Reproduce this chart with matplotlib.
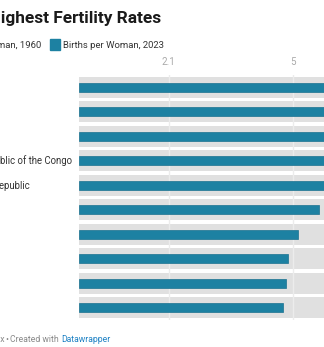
import matplotlib.pyplot as plt
from matplotlib.patches import Rectangle

plt.rcParams['font.family'] = ['Roboto', 'DejaVu Sans']

# Länder und Geburten pro Frau
countries = ["Niger", "Chad", "Somalia", "Democratic Republic of the Congo",
             "Central African Republic", "Mali", "Angola", "Burundi",
             "Afghanistan", "Mozambique"]
births_1960 = [7.5, 6.3, 7.3, 6.0, 5.9, 7.0, 7.6, 7.0, 7.3, 6.6]
births_2023 = [6.1, 6.1, 6.1, 6.05, 6.0, 5.61, 5.12, 4.89, 4.84, 4.77]
ticks = [2.1, 5]
tick_labels = ["2.1", "5"]

W, H = 324, 347
teal = "#1d81a2"
grey = "#e0e0e0"

fig = plt.figure(figsize=(W / 100, H / 100), dpi=100)

# Achsen in Pixelkoordinaten
px_per_unit = 42.76
x0 = 79
top, row_h = 75, 24.5
n = len(countries)
ax = fig.add_axes([x0 / W, 1 - (top + n * row_h) / H, (W - x0) / W, n * row_h / H])
ax.set_xlim(0, (W - x0) / px_per_unit)
ax.set_ylim(n, 0)
ax.axis("off")

y = [i + 0.5 for i in range(n)]
ax.barh(y, births_1960, height=0.86, color=grey, zorder=1)
for t in ticks:
    ax.axvline(t, color="#ececec", lw=1, zorder=2)
ax.barh(y, births_2023, height=0.37, color=teal, edgecolor="#1a7190", lw=0.5, zorder=3)

for t, lab in zip(ticks, tick_labels):
    ax.text(t, -0.55, lab, ha="center", va="center", fontsize=7, color="#aaaaaa")

fig.canvas.draw()
r = fig.canvas.get_renderer()

def place_right(txt, right_px, y_px, **kw):
    t = fig.text(0, 1 - y_px / H, txt, va="baseline", **kw)
    w = t.get_window_extent(r).width
    t.set_x((right_px - w) / W)
    return t

# Ländernamen linksbündig
probe = fig.text(0, 0, countries[3], fontsize=6.9)
label_x = 72 - probe.get_window_extent(r).width
probe.remove()
for i, c in enumerate(countries):
    fig.text(label_x / W, 1 - (top + (i + 0.5) * row_h) / H, c, fontsize=6.9,
             color="#333333", va="center", ha="left")

# Titel
place_right("Countries with the Highest Fertility Rates", 161, 23.5,
            fontsize=12.4, fontweight="bold", color="#1a1a1a")

# Legende
place_right("Births per Woman, 1960", 41, 48.5, fontsize=6.8, color="#333333")
fig.patches.append(Rectangle((50 / W, 1 - 50 / H), 10 / W, 11 / H,
                             transform=fig.transFigure, color=teal))
fig.text(63 / W, 1 - 48.5 / H, "Births per Woman, 2023", fontsize=6.8,
         color="#333333", va="baseline")

# Fußzeile
place_right("Source: World Population Index", 4, 342, fontsize=6.2, color="#888888")
fig.text(5.5 / W, 1 - 342 / H, "•", fontsize=6.2, color="#888888", va="baseline")
fig.text(10.5 / W, 1 - 342 / H, "Created with", fontsize=6.2, color="#888888", va="baseline")
fig.text(61 / W, 1 - 342 / H, "Datawrapper", fontsize=6.2, color="#1d81c4", va="baseline")

fig.savefig("out.png", dpi=100)
